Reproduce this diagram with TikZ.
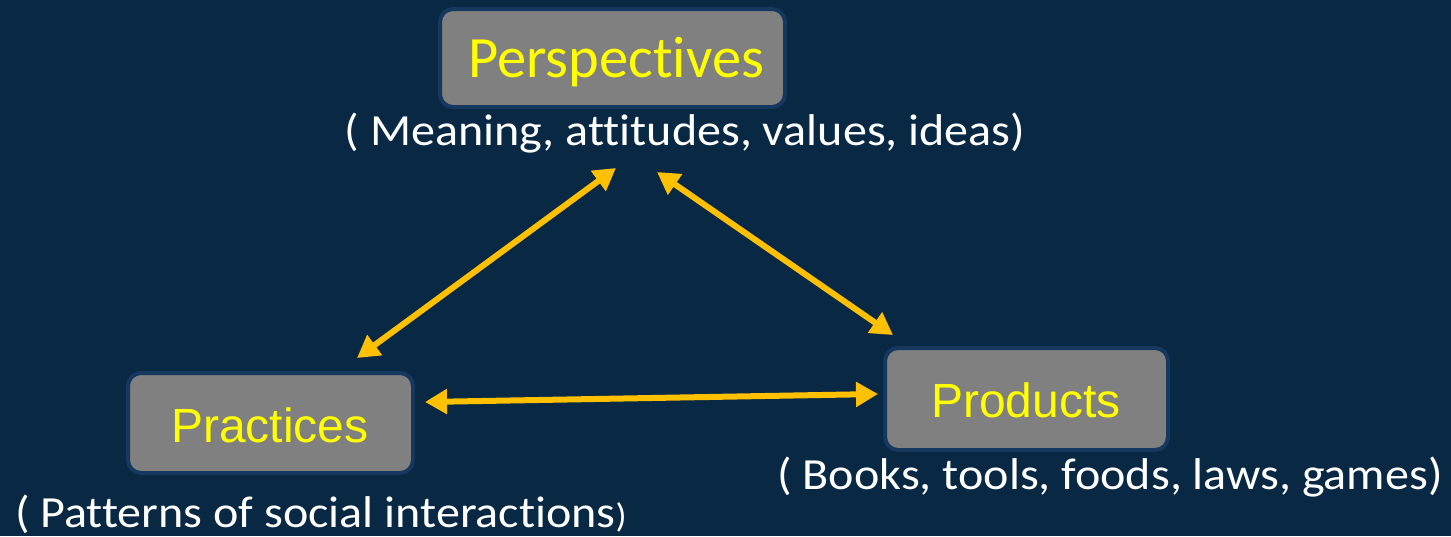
\documentclass[tikz,border=0pt]{standalone}
\usepackage{fontspec}
\setmainfont{Carlito}[Ligatures=CommonOff]
\newfontfamily\arialf{Liberation Sans}
\usetikzlibrary{arrows.meta}
\definecolor{bgblue}{HTML}{082843}
\definecolor{glow}{HTML}{17385E}
\definecolor{boxgray}{HTML}{808080}
\definecolor{gold}{HTML}{FFC000}
\definecolor{ylw}{HTML}{FFFF00}
\newcommand{\capstretch}[1]{\scalebox{1.08}[1]{#1}}
\tikzset{
  box/.style={draw=glow, line width=4pt, fill=boxgray, rounded corners=13pt, inner sep=0pt},
  boxtext/.style={anchor=base, text=ylw, inner sep=0pt},
  caption/.style={anchor=base, text=white, inner sep=0pt, font=\fontsize{44.5}{48}\selectfont},
  arr/.style={draw=gold, line width=6pt, {Triangle[length=22pt,width=24pt]}-{Triangle[length=22pt,width=24pt]}}
}
\begin{document}
\begin{tikzpicture}[x=1pt,y=-1pt]
\fill[bgblue] (0,0) rectangle (1451,536);
\useasboundingbox (0,0) rectangle (1451,536);
% boxes
\node[box, minimum width=345pt, minimum height=98pt] (persp) at (612.5,58) {};
\node[box, minimum width=285pt, minimum height=100pt] (prac) at (270.5,423) {};
\node[box, minimum width=283pt, minimum height=102pt] (prod) at (1026.5,399) {};
% box labels
\node[boxtext, font=\fontsize{58.5}{62}\selectfont] (perspt) at (616,77) {Perspectives};
\node[boxtext, font=\arialf\fontsize{48}{52}\selectfont] (pract) at (270,442) {Practices};
\node[boxtext, font=\arialf\fontsize{48}{52}\selectfont] (prodt) at (1026,417) {Products};
% captions
\node[caption] (perspc) at (685,145) {\capstretch{( Meaning, attitudes, values, ideas)}};
\node[caption] (pracc) at (321,527) {\capstretch{( Patterns of social interactions{\fontsize{34}{36}\selectfont)}}};
\node[caption] (prodc) at (1110,489) {\capstretch{( Books, tools, foods, laws, games)}};
% arrow ends
\coordinate (a1s) at (357,358);
\coordinate (a1e) at (616,168);
\coordinate (a2s) at (657,172);
\coordinate (a2e) at (893,335);
\coordinate (a3s) at (425,402);
\coordinate (a3e) at (878,394);
\draw[arr] (a1s) -- (a1e);
\draw[arr] (a2s) -- (a2e);
\draw[arr] (a3s) -- (a3e);
\end{tikzpicture}
\end{document}
